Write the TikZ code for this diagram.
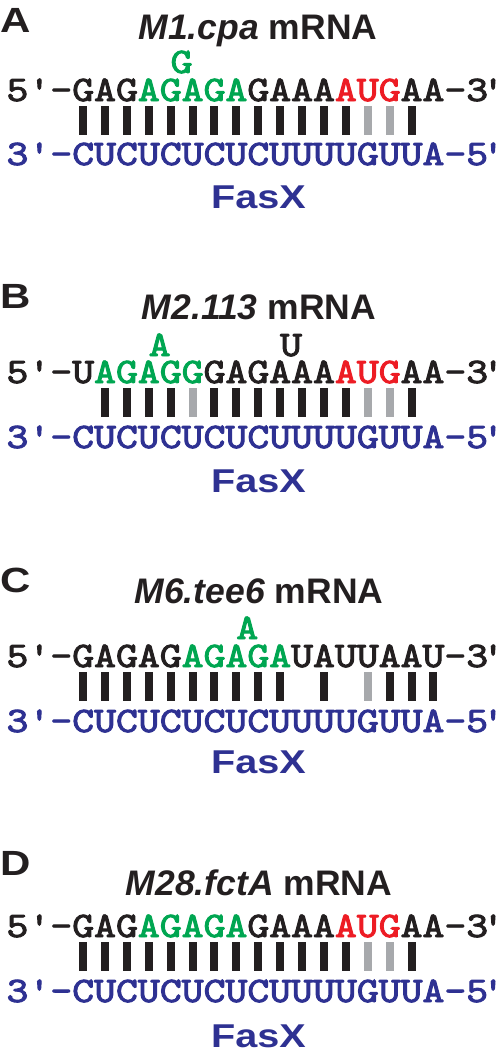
\documentclass[tikz,border=0pt]{standalone}
\usepackage{fontspec}
\setmainfont{Liberation Sans}
\newfontfamily\seqfont{lmmono10-regular.otf}[FakeBold=2.5]
\definecolor{ink}{HTML}{231F20}
\definecolor{sgreen}{HTML}{00A651}
\definecolor{sred}{HTML}{ED1C24}
\definecolor{sblue}{HTML}{2E3192}
\definecolor{sgray}{HTML}{A7A9AC}
\newcommand{\gr}[1]{\textcolor{sgreen}{#1}}
\newcommand{\rd}[1]{\textcolor{sred}{#1}}
\newcommand{\sq}[1]{\scalebox{1}[0.86]{#1}}
\newcommand{\widen}[1]{\scalebox{1.2}[1]{#1}}
\newcommand{\tailprime}{\kern-6pt'\kern-6pt}
\tikzset{
  seq/.style={anchor=base west, inner sep=0pt, text=ink, font=\seqfont\fontsize{41.7}{44}\selectfont},
  bseq/.style={seq, text=sblue},
  ins/.style={anchor=base, inner sep=0pt, font=\seqfont\fontsize{41.7}{44}\selectfont},
  ttl/.style={anchor=base, inner sep=0pt, text=ink, font=\bfseries\fontsize{35.5}{40}\selectfont},
  lbl/.style={anchor=base west, inner sep=0pt, text=ink, font=\bfseries\fontsize{35}{40}\selectfont},
  fasx/.style={anchor=base, inner sep=0pt, text=sblue, font=\bfseries\fontsize{33}{36}\selectfont},
  pair/.style={line width=8pt, draw=ink},
  wob/.style={line width=8pt, draw=sgray}
}
\newcommand{\bx}[1]{17.3+21.9*(#1+3)}
\begin{document}
\begin{tikzpicture}[x=1pt,y=1pt]
\useasboundingbox (0,0) rectangle (500,-1050);
% ---------- A ----------
\begin{scope}[yshift=-101pt]
  \node[lbl] (labA) at (0,69) {\widen{A}};
  \node[ttl] (ttlA) at (258,62) {\textit{M1.cpa} mRNA};
  \node[ins, text=sgreen] (insA) at ({\bx{4.5}},28) {\sq{G}};
  \node[seq] (topA) at (6.35,0) {\sq{5'-GAG\gr{AGAGA}GAAA\rd{AUG}AA-3\tailprime}};
  \foreach \i in {0,...,12} \draw[pair] ({\bx{\i}},-5) -- ++(0,-29);
  \foreach \i in {13,14} \draw[wob] ({\bx{\i}},-5) -- ++(0,-29);
  \draw[pair] ({\bx{15}},-5) -- ++(0,-29);
  \node[bseq] (botA) at (6.35,-64) {\sq{3'-CUCUCUCUCUUUUGUUA-5\tailprime}};
  \node[fasx] (fasA) at (258.5,-107) {\widen{FasX}};
\end{scope}
% ---------- B ----------
\begin{scope}[yshift=-383pt]
  \node[lbl] (labB) at (0,75) {\widen{B}};
  \node[ttl] (ttlB) at (259,64) {\textit{M2.113} mRNA};
  \node[ins, text=sgreen] (insB1) at ({\bx{3.5}},27) {\sq{A}};
  \node[ins, text=ink] (insB2) at ({\bx{9.5}},27) {\sq{U}};
  \node[seq] (topB) at (6.35,0) {\sq{5'-U\gr{AGAGG}GAGAAA\rd{AUG}AA-3\tailprime}};
  \foreach \i in {1,...,4} \draw[pair] ({\bx{\i}},-5) -- ++(0,-29);
  \draw[wob] ({\bx{5}},-5) -- ++(0,-29);
  \foreach \i in {6,...,12} \draw[pair] ({\bx{\i}},-5) -- ++(0,-29);
  \foreach \i in {13,14} \draw[wob] ({\bx{\i}},-5) -- ++(0,-29);
  \draw[pair] ({\bx{15}},-5) -- ++(0,-29);
  \node[bseq] (botB) at (6.35,-65) {\sq{3'-CUCUCUCUCUUUUGUUA-5\tailprime}};
  \node[fasx] (fasB) at (258.5,-109) {\widen{FasX}};
\end{scope}
% ---------- C ----------
\begin{scope}[yshift=-667pt]
  \node[lbl] (labC) at (0,75) {\widen{C}};
  \node[ttl] (ttlC) at (259,64) {\textit{M6.tee6} mRNA};
  \node[ins, text=sgreen] (insC) at ({\bx{7.5}},28) {\sq{A}};
  \node[seq] (topC) at (6.35,0) {\sq{5'-GAGAG\gr{AGAGA}UAUUAAU-3\tailprime}};
  \foreach \i in {0,...,9} \draw[pair] ({\bx{\i}},-5) -- ++(0,-29);
  \draw[pair] ({\bx{11}},-5) -- ++(0,-29);
  \draw[wob] ({\bx{13}},-5) -- ++(0,-29);
  \foreach \i in {14,15,16} \draw[pair] ({\bx{\i}},-5) -- ++(0,-29);
  \node[bseq] (botC) at (6.35,-65) {\sq{3'-CUCUCUCUCUUUUGUUA-5\tailprime}};
  \node[fasx] (fasC) at (258.5,-106) {\widen{FasX}};
\end{scope}
% ---------- D ----------
\begin{scope}[yshift=-937pt]
  \node[lbl] (labD) at (0,62) {\widen{D}};
  \node[ttl] (ttlD) at (259,42) {\textit{M28.fctA} mRNA};
  \node[seq] (topD) at (6.35,0) {\sq{5'-GAG\gr{AGAGA}GAAA\rd{AUG}AA-3\tailprime}};
  \foreach \i in {0,...,12} \draw[pair] ({\bx{\i}},-5) -- ++(0,-29);
  \foreach \i in {13,14} \draw[wob] ({\bx{\i}},-5) -- ++(0,-29);
  \draw[pair] ({\bx{15}},-5) -- ++(0,-29);
  \node[bseq] (botD) at (6.35,-65) {\sq{3'-CUCUCUCUCUUUUGUUA-5\tailprime}};
  \node[fasx] (fasD) at (258.5,-110) {\widen{FasX}};
\end{scope}
\end{tikzpicture}
\end{document}
